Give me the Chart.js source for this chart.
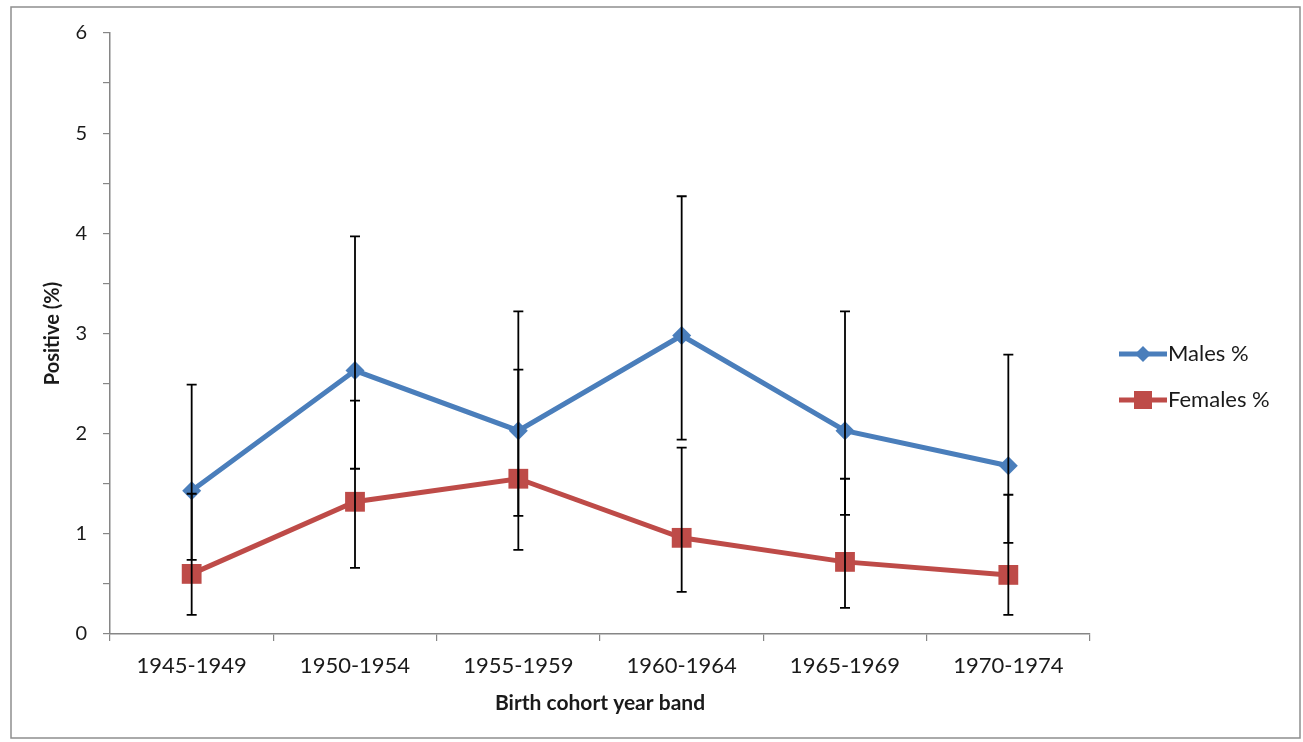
<!DOCTYPE html>
<html>
<head>
<meta charset="utf-8">
<title>Positive (%) by birth cohort</title>
<script src="https://cdn.jsdelivr.net/npm/chart.js@4"></script>
<style>
    body { margin: 0; background: #ffffff; }
    #chart-wrap { width: 1303px; height: 742px; }
</style>
</head>
<body>
<div id="chart-wrap">
    <canvas id="cohort-chart" width="1303" height="742"></canvas>
</div>
<script>
// categories and series
const cohorts = ["1945-1949", "1950-1954", "1955-1959", "1960-1964", "1965-1969", "1970-1974"];

const malesPct = [1.43, 2.63, 2.03, 2.98, 2.03, 1.68];
const malesLow = [0.74, 1.65, 1.18, 1.94, 1.19, 0.91];
const malesHigh = [2.49, 3.97, 3.22, 4.37, 3.22, 2.79];

const femalesPct = [0.60, 1.32, 1.55, 0.96, 0.72, 0.59];
const femalesLow = [0.19, 0.66, 0.84, 0.42, 0.26, 0.19];
const femalesHigh = [1.40, 2.33, 2.64, 1.86, 1.55, 1.39];

const yMin = 0;
const yMax = 6;
const yMinorStep = 0.5;

const BLUE = "#4A7EBB";
const RED = "#BE4B48";
const AXIS_GREY = "#868686";
const FONT = "Lato, 'Open Sans', sans-serif";

document.addEventListener("DOMContentLoaded", () => {
    renderCohortChart();
});

// black whisker bars drawn on top of the lines
const errorBarPlugin = {
    id: "errorBars",
    afterDatasetsDraw(chart) {
        const ctx = chart.ctx;
        const x = chart.scales.x;
        const y = chart.scales.y;
        const bars = [[malesLow, malesHigh], [femalesLow, femalesHigh]];
        ctx.save();
        ctx.strokeStyle = "#000000";
        ctx.lineWidth = 1.8;
        bars.forEach(([lows, highs]) => {
            lows.forEach((low, i) => {
                const px = x.getPixelForValue(i);
                const top = y.getPixelForValue(highs[i]);
                const bottom = y.getPixelForValue(low);
                ctx.beginPath();
                ctx.moveTo(px, top);
                ctx.lineTo(px, bottom);
                ctx.moveTo(px - 5, top);
                ctx.lineTo(px + 5, top);
                ctx.moveTo(px - 5, bottom);
                ctx.lineTo(px + 5, bottom);
                ctx.stroke();
            });
        });
        ctx.restore();
    }
};

// outer frame plus the Excel style legend on the right
const frameAndLegendPlugin = {
    id: "frameAndLegend",
    beforeDraw(chart) {
        const ctx = chart.ctx;
        ctx.save();
        ctx.fillStyle = "#ffffff";
        ctx.fillRect(0, 0, chart.width, chart.height);
        ctx.strokeStyle = "#8e8e8e";
        ctx.lineWidth = 1.5;
        ctx.strokeRect(11, 7, 1289, 731);
        ctx.restore();
    },
    afterDraw(chart) {
        const ctx = chart.ctx;
        const items = [
            { text: "Males %", color: BLUE, shape: "diamond", y: 354 },
            { text: "Females %", color: RED, shape: "square", y: 400 }
        ];
        ctx.save();
        items.forEach(item => {
            ctx.strokeStyle = item.color;
            ctx.fillStyle = item.color;
            ctx.lineWidth = 5;
            ctx.beginPath();
            ctx.moveTo(1119, item.y);
            ctx.lineTo(1167, item.y);
            ctx.stroke();
            ctx.beginPath();
            if (item.shape === "diamond") {
                ctx.moveTo(1143, item.y - 8);
                ctx.lineTo(1151, item.y);
                ctx.lineTo(1143, item.y + 8);
                ctx.lineTo(1135, item.y);
                ctx.closePath();
            } else {
                ctx.rect(1134, item.y - 9, 18, 18);
            }
            ctx.fill();
            ctx.fillStyle = "#1a1a1a";
            ctx.font = "22px " + FONT;
            ctx.textBaseline = "middle";
            ctx.fillText(item.text, 1168, item.y);
        });
        ctx.restore();
    }
};

function renderCohortChart() {
    const ctx = document.getElementById("cohort-chart").getContext("2d");
    new Chart(ctx, {
        type: "line",
        data: {
            labels: cohorts,
            datasets: [
                {
                    label: "Males %",
                    data: malesPct,
                    borderColor: BLUE,
                    backgroundColor: BLUE,
                    borderWidth: 5,
                    pointStyle: "rectRot",
                    pointRadius: 9.5,
                    pointBorderWidth: 0,
                    fill: false,
                    tension: 0
                },
                {
                    label: "Females %",
                    data: femalesPct,
                    borderColor: RED,
                    backgroundColor: RED,
                    borderWidth: 5,
                    pointStyle: "rect",
                    pointRadius: 14,
                    pointBorderWidth: 0,
                    fill: false,
                    tension: 0
                }
            ]
        },
        options: {
            responsive: false,
            animation: false,
            layout: {
                padding: { left: 0, top: 33, right: 213, bottom: 0 }
            },
            plugins: {
                legend: { display: false },
                tooltip: { enabled: false }
            },
            scales: {
                x: {
                    type: "category",
                    offset: true,
                    grid: {
                        offset: true,
                        drawOnChartArea: false,
                        drawTicks: true,
                        tickLength: 7,
                        color: AXIS_GREY,
                        lineWidth: 1.2
                    },
                    border: { display: true, color: AXIS_GREY, width: 1.5 },
                    ticks: {
                        color: "#1a1a1a",
                        padding: 12,
                        maxRotation: 0,
                        font: { family: FONT, size: 22 }
                    },
                    title: {
                        display: true,
                        text: "Birth cohort year band",
                        color: "#1a1a1a",
                        font: { family: FONT, size: 21, weight: "bold" },
                        padding: { top: 0, bottom: 26 }
                    },
                    afterFit(scale) {
                        scale.height = 108;
                    }
                },
                y: {
                    min: yMin,
                    max: yMax,
                    grid: {
                        drawOnChartArea: false,
                        drawTicks: true,
                        tickLength: 7,
                        color: AXIS_GREY,
                        lineWidth: 1.2
                    },
                    border: { display: true, color: AXIS_GREY, width: 1.5 },
                    ticks: {
                        stepSize: yMinorStep,
                        color: "#1a1a1a",
                        padding: 16,
                        font: { family: FONT, size: 20 },
                        callback: value => (Number.isInteger(value) ? value : "")
                    },
                    title: {
                        display: true,
                        text: "Positive (%)",
                        color: "#1a1a1a",
                        font: { family: FONT, size: 20, weight: "bold" },
                        padding: { top: 41, bottom: 0 }
                    },
                    afterFit(scale) {
                        scale.width = 110;
                    }
                }
            }
        },
        plugins: [frameAndLegendPlugin, errorBarPlugin]
    });
}
</script>
</body>
</html>
